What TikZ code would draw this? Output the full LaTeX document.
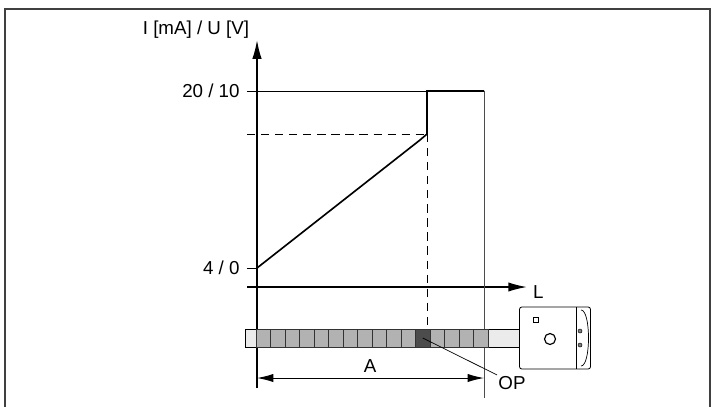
\documentclass[tikz,border=0pt]{standalone}
\usepackage{fontspec}
\setmainfont{Liberation Sans}
\usetikzlibrary{arrows.meta,positioning,calc}

\begin{document}
\begin{tikzpicture}[x=0.03cm, y=-0.03cm, font=\fontsize{16}{18}\selectfont]
% Define styles
\tikzstyle{axis} = [line width=1.3pt,-{Latex[length=16pt,width=8pt]}]
\tikzstyle{thin} = [line width=0.6pt]
\tikzstyle{guide} = [line width=0.8pt, dash pattern=on 7pt off 5pt]
\tikzstyle{lbl} = [inner sep=1pt]
\tikzstyle{cell} = [draw=black!80, line width=0.5pt, fill=black!30, minimum width=14.5*0.03cm, minimum height=18*0.03cm, inner sep=0pt]

\useasboundingbox (0,0) rectangle (712,406);
\draw[line width=1pt, black!75] (5,412) -- (5,9) -- (710,9) -- (710,412);

% Points
\coordinate (origin) at (257,287);
\coordinate (ytop) at (257,40);
\coordinate (yfoot) at (257,388);
\coordinate (xleft) at (247,287);
\coordinate (xend) at (527,287);
\coordinate (low) at (257,268);
\coordinate (knee) at (427,134);
\coordinate (jump) at (427,91);
\coordinate (high) at (484,91);
\coordinate (hfoot) at (484,398);
\coordinate (opfoot) at (427,330);

% Axes
\draw[axis] (yfoot) -- (ytop);
\draw[axis] (xleft) -- (xend);
\node[lbl] (ylabel) at (196,30) {I [mA] / U [V]};
\node[lbl, right=4pt of xend, yshift=-4pt] (L) {L};
\node[lbl, anchor=east] (tmax) at (241,91) {20 / 10};
\node[lbl, anchor=east] (tmin) at (241,268) {4 / 0};

% Guide lines
\draw[thin] (247,91) -- (jump);
\draw[thin] (247,268) -- (low);
\draw[thin, black!70] (high) -- (hfoot);
\draw[guide] (247,134) -- (knee);
\draw[guide] (knee) -- (opfoot);

% Output curve
\draw[line width=1.4pt] (low) -- (420,140) -- (knee) -- (jump) -- (high);

% Scale bar
\draw[line width=0.6pt, fill=black!8] (245,329) rectangle (521,347);
\foreach \i in {0,...,15} {
  \node[cell] (c\i) at ({256+7.25+14.5*\i},338) {};
}
\node[cell, fill=black!70] at (c11) {};

% Sensor
\node[draw, line width=0.7pt, fill=white, rounded corners=2pt, minimum width=71*0.03cm, minimum height=62*0.03cm, inner sep=0pt] (sensor) at (555,338) {};
\draw[thin] (576,307) -- (576,369);
\draw[thin] (581,310) .. controls (591,310) and (591,366) .. (581,366);
\node[draw, circle, line width=1pt, minimum size=11*0.03cm, inner sep=0pt] (lens) at (550,339) {};
\node[draw, minimum width=5*0.03cm, minimum height=5*0.03cm, inner sep=0pt] (led) at (536,320) {};
\foreach \y in {331,345} \node[draw, circle, fill=black!50, minimum size=4*0.03cm, inner sep=0pt] at (580,\y) {};

% Dimension A and OP
\coordinate (aleft) at (257,378);
\coordinate (aright) at (484,378);
\draw[line width=0.8pt, {Latex[length=14pt,width=7pt]}-{Latex[length=14pt,width=7pt]}] (aleft) -- (aright);
\node[lbl] (A) at (370,366) {A};
\node[lbl] (OP) at (512,383) {OP};
\draw[thin] (c11.center) -- (OP.north west);
\end{tikzpicture}
\end{document}
